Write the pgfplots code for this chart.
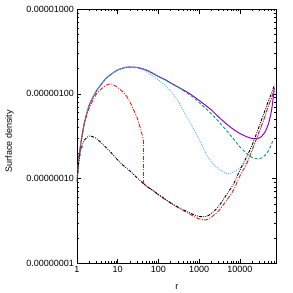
\documentclass[border=0pt]{standalone}
\usepackage{pgfplots}
\pgfplotsset{compat=1.18}
\usepackage{fontspec}
\setmainfont{Liberation Sans}
\definecolor{gpurple}{HTML}{9400D3}
\definecolor{ggreen}{HTML}{009E73}
\definecolor{gblue}{HTML}{56B4E9}
\definecolor{gred}{HTML}{E51E10}
\begin{document}
\fontsize{9}{10}\selectfont
\begin{tikzpicture}
\path[use as bounding box] (0,0) rectangle (293pt,293pt);
\begin{axis}[
  at={(77pt,29.7pt)}, anchor=south west,
  scale only axis, width=199.7pt, height=254.3pt,
  xmode=log, ymode=log,
  xmin=1, xmax=80000, ymin=1e-8, ymax=1e-5,
  xtick={1,10,100,1000,10000},
  xticklabels={1,10,100,1000,10000},
  minor xtick={2,3,4,5,6,7,8,9,20,30,40,50,60,70,80,90,200,300,400,500,600,700,800,900,2000,3000,4000,5000,6000,7000,8000,9000,20000,30000,40000,50000,60000,70000},
  ytick={1e-8,1e-7,1e-6,1e-5},
  yticklabels={0.00000001,0.00000010,0.00000100,0.00001000},
  minor ytick={2e-8,3e-8,4e-8,5e-8,6e-8,7e-8,8e-8,9e-8,2e-7,3e-7,4e-7,5e-7,6e-7,7e-7,8e-7,9e-7,2e-6,3e-6,4e-6,5e-6,6e-6,7e-6,8e-6,9e-6},
  tick align=inside,
  major tick length=4.5pt, minor tick length=2.2pt,
  tick style={black, line width=0.5pt},
  axis line style={black, line width=0.9pt},
  xlabel={r}, ylabel={Surface density},
  xlabel style={at={(axis description cs:0.5,-0.093)}, anchor=center},
  ylabel style={at={(axis description cs:-0.338,0.48)}, anchor=center},
  ticklabel style={font=\fontsize{9}{10}\selectfont},
  label style={font=\fontsize{9}{10}\selectfont},
  every axis plot/.append style={line join=round},
]
% purple solid
\addplot[gpurple, line width=1pt, smooth, tension=0.4] coordinates {
(1,9.12e-8) (1.1,1.656e-7) (1.25,2.63e-7) (1.5,4.40e-7) (2,7.38e-7) (3,1.079e-6) (5,1.495e-6) (7,1.711e-6) (10,1.91e-6) (15,2.04e-6) (20,2.07e-6) (30,2.04e-6) (50,1.91e-6) (70,1.76e-6) (100,1.60e-6) (150,1.455e-6) (200,1.34e-6) (300,1.202e-6) (500,1.05e-6) (700,9.42e-7) (1000,8.34e-7) (1500,7.18e-7) (2000,6.44e-7) (3000,5.32e-7) (5000,4.29e-7) (7000,3.79e-7) (10000,3.40e-7) (15000,3.10e-7) (20000,2.97e-7) (30000,3.01e-7) (40000,3.45e-7) (50000,4.40e-7) (60000,6.44e-7) (70000,1.17e-6)
};
% green dashed
\addplot[ggreen, line width=0.9pt, smooth, tension=0.4, dash pattern=on 3pt off 2pt] coordinates {
(1,9.12e-8) (1.1,1.656e-7) (1.25,2.63e-7) (1.5,4.40e-7) (2,7.38e-7) (3,1.079e-6) (5,1.495e-6) (7,1.711e-6) (10,1.91e-6) (15,2.04e-6) (20,2.07e-6) (30,2.04e-6) (50,1.91e-6) (70,1.76e-6) (100,1.60e-6) (150,1.455e-6) (200,1.34e-6) (300,1.202e-6) (500,1.021e-6) (700,9.17e-7) (1000,7.89e-7) (1500,6.62e-7) (2000,5.78e-7) (3000,4.71e-7) (5000,3.55e-7) (7000,2.93e-7) (10000,2.36e-7) (15000,1.95e-7) (20000,1.77e-7) (30000,1.70e-7) (40000,1.85e-7) (50000,2.12e-7) (60000,2.56e-7) (65000,2.85e-7)
};
% blue dotted
\addplot[gblue, line width=0.9pt, smooth, tension=0.4, dash pattern=on 1pt off 1.2pt] coordinates {
(1,9.12e-8) (1.1,1.656e-7) (1.25,2.63e-7) (1.5,4.40e-7) (2,7.38e-7) (3,1.079e-6) (5,1.495e-6) (7,1.711e-6) (10,1.91e-6) (15,2.04e-6) (20,2.07e-6) (30,2.03e-6) (50,1.83e-6) (70,1.64e-6) (100,1.455e-6) (150,1.236e-6) (200,1.079e-6) (300,8.22e-7) (500,5.32e-7) (700,3.95e-7) (1000,2.93e-7) (1500,1.92e-7) (2000,1.57e-7) (3000,1.30e-7) (5000,1.133e-7) (7000,1.197e-7) (10000,1.334e-7) (15000,1.59e-7) (20000,2.17e-7) (30000,3.45e-7) (40000,5.19e-7) (50000,7.18e-7) (60000,9.17e-7) (70000,1.20e-6)
};
% red dash-dot
\addplot[gred, line width=0.9pt, smooth, tension=0.4, dash pattern=on 4pt off 1.5pt on 1pt off 1.5pt] coordinates {
(1,9.12e-8) (1.1,1.656e-7) (1.25,2.63e-7) (1.5,4.40e-7) (2,6.80e-7) (3,9.95e-7) (5,1.253e-6) (7,1.305e-6) (10,1.186e-6) (15,9.95e-7) (20,8.00e-7) (30,5.19e-7) (37,3.74e-7) (41,3.10e-7) (42,2.85e-7)
};
\addplot[gred, line width=0.9pt, dash pattern=on 4pt off 1.5pt on 1pt off 1.5pt] coordinates {
(42,2.85e-7) (42,8.87e-8)
};
\addplot[gred, line width=0.9pt, smooth, tension=0.4, dash pattern=on 4pt off 1.5pt on 1pt off 1.5pt] coordinates {
(42,8.87e-8) (50,8.18e-8) (70,7.34e-8) (100,6.41e-8) (150,5.60e-8) (200,5.15e-8) (300,4.56e-8) (500,3.98e-8) (700,3.62e-8) (1000,3.34e-8) (1500,3.25e-8) (2000,3.52e-8) (3000,4.15e-8) (5000,5.74e-8) (7000,7.34e-8) (10000,1.074e-7) (15000,1.528e-7) (20000,2.17e-7) (30000,3.64e-7) (40000,5.19e-7) (50000,7.18e-7) (60000,8.92e-7) (72000,1.14e-6)
};
% black dash-dot-dot
\addplot[black, line width=0.9pt, smooth, tension=0.4, dash pattern=on 3pt off 1.3pt on 0.8pt off 1.3pt on 0.8pt off 1.3pt] coordinates {
(1,9.12e-8) (1.1,1.528e-7) (1.25,2.17e-7) (1.5,2.81e-7) (2,3.18e-7) (3,2.97e-7) (5,2.36e-7) (7,2.00e-7) (10,1.656e-7) (15,1.371e-7) (20,1.230e-7) (30,1.016e-7) (50,8.18e-8) (70,7.34e-8) (100,6.49e-8) (150,5.67e-8) (200,5.15e-8) (300,4.62e-8) (500,4.09e-8) (700,3.78e-8) (1000,3.57e-8) (1500,3.57e-8) (2000,3.88e-8) (3000,4.69e-8) (5000,6.76e-8) (7000,8.63e-8) (10000,1.262e-7) (15000,1.85e-7) (20000,2.49e-7) (30000,4.17e-7) (40000,6.10e-7) (50000,8.22e-7) (60000,1.021e-6) (70000,1.27e-6)
};
\end{axis}
\end{tikzpicture}
\end{document}
